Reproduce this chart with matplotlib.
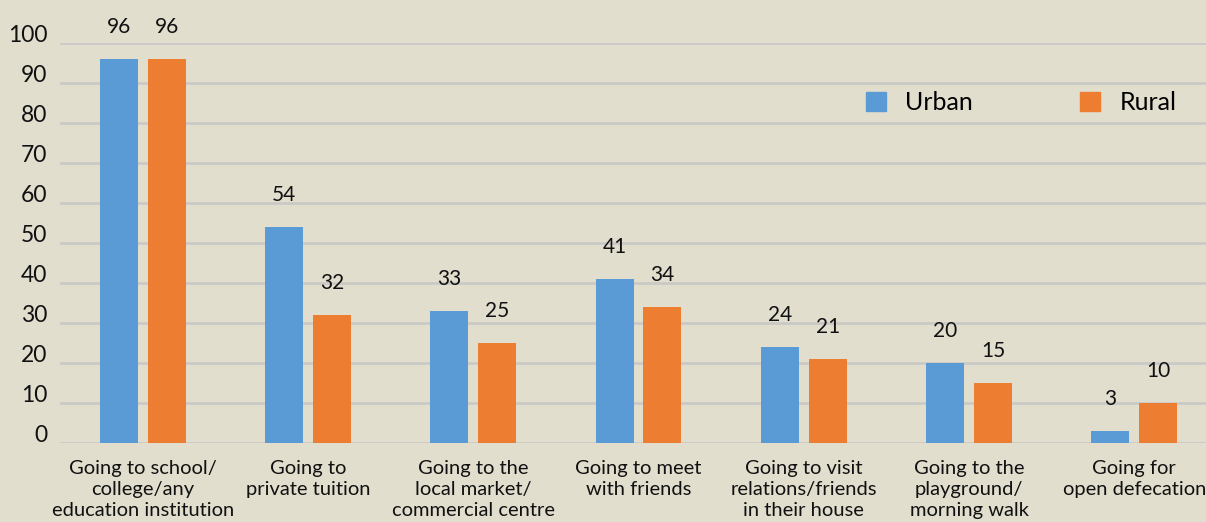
import numpy as np
import matplotlib.pyplot as plt
from matplotlib.transforms import ScaledTranslation
from matplotlib.patches import Patch

categories = ["Going to school/\ncollege/any\neducation institution",
              "Going to\nprivate tuition",
              "Going to the\nlocal market/\ncommercial centre",
              "Going to meet\nwith friends",
              "Going to visit\nrelations/friends\nin their house",
              "Going to the\nplayground/\nmorning walk",
              "Going for\nopen defecation"]
urban = [96, 54, 33, 41, 24, 20, 3]
rural = [96, 32, 25, 34, 21, 15, 10]
yticks = [0, 10, 20, 30, 40, 50, 60, 70, 80, 90, 100]

bg = "#E1DECE"
blue = "#5B9BD5"
orange = "#ED7D31"

plt.rcParams['font.family'] = ['Lato', 'DejaVu Sans']

fig = plt.figure(figsize=(12.06, 5.22), dpi=100, facecolor=bg)
# axes runs a little past the right edge, as in the original
ax = fig.add_axes([60 / 1206, 79 / 522, (1217 - 60) / 1206, 400 / 522])
ax.set_facecolor(bg)

x = np.arange(len(categories))
w = 0.23
off = 0.145
b1 = ax.bar(x - off, urban, w, color=blue, zorder=3)
b2 = ax.bar(x + off, rural, w, color=orange, zorder=3)

for bars, vals in ((b1, urban), (b2, rural)):
    for r, v in zip(bars, vals):
        ax.annotate(str(v), (r.get_x() + r.get_width() / 2, v),
                    xytext=(0, 23), textcoords="offset points",
                    ha="center", va="center", fontsize=15, color="#111111",
                    annotation_clip=False)

ax.set_xlim(-0.5, 6.5)
ax.set_ylim(0, 100)
ax.set_yticks(yticks)
ax.set_yticklabels([str(t) for t in yticks], fontsize=16.5, color="#111111")
ax.set_xticks(x)
ax.set_xticklabels(categories, fontsize=14.5, color="#111111", linespacing=1.3)
ax.tick_params(axis="both", length=0)
ax.tick_params(axis="y", pad=9)
ax.tick_params(axis="x", pad=12)
for lbl in ax.get_yticklabels():
    lbl.set_transform(lbl.get_transform() + ScaledTranslation(0, 0.1, fig.dpi_scale_trans))

ax.grid(axis="y", color="#CBC9C6", linewidth=2, zorder=0)
ax.set_axisbelow(True)
for s in ax.spines.values():
    s.set_visible(False)

handles = [Patch(color=blue, label="Urban"), Patch(color=orange, label="Rural")]
fig.legend(handles=handles, loc="center left",
           bbox_to_anchor=(866 / 1206, 1 - 103 / 522), ncol=2, frameon=False,
           fontsize=18, handlelength=0.8, handleheight=0.8,
           handletextpad=0.76, columnspacing=4.3, borderpad=0, borderaxespad=0)

fig.savefig("out.png", dpi=100, facecolor=bg)
